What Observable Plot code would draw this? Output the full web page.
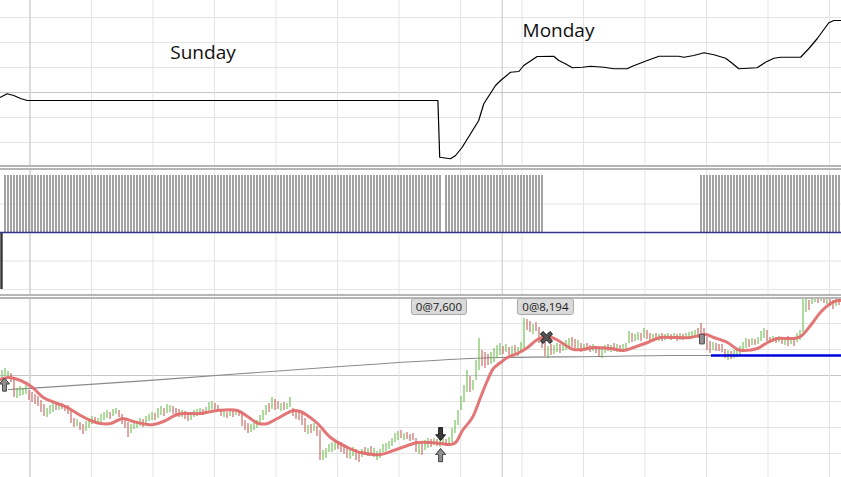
<!DOCTYPE html>
<html><head><meta charset="utf-8">
<script src="https://cdn.jsdelivr.net/npm/d3@7"></script>
<script src="https://cdn.jsdelivr.net/npm/@observablehq/plot@0.6"></script>
<style>
body{margin:0;background:#fff}
#root{position:relative;width:841px;height:477px;overflow:hidden;background:#fff}
.panel{position:absolute;left:0;width:841px;overflow:hidden}
.sep{position:absolute;left:0;width:841px;height:2px;background:#b6b6b6}
.lbl{position:absolute;font:11.5px "Open Sans","Noto Sans",sans-serif;color:#1a1a1a;background:#dadada;border:1px solid #a9a9a9;border-radius:3px;padding:0 4px;line-height:15px;transform:translateX(-50%);white-space:nowrap}
</style></head><body><div id="root"></div>
<script>
// ---------- shared x (bar index) ----------
const xDomain = [-0.5, 279.8333];
const vGrid = [9.33, 29.83, 50.33, 70.83, 91.33, 111.83, 132.33, 152.83, 173.33, 193.83, 214.33, 234.83, 255.33, 275.83];
const sessionBreaks = [9.33, 166.73];

// ---------- panel 1: indicator line ----------
const p1Idx = [-0.5,1.7,3.9,6.2,8.4,145.3,145.9,149.5,151.2,153.4,156.2,158.9,160.6,164.5,166.2,169.5,172.3,173.9,178.4,183.9,185.6,187.8,190.1,193.4,196.2,200.6,203.9,208.4,210.1,215.1,219,225.6,227.3,230.6,234,237.3,241.2,243.4,245.6,251.7,254.5,257.3,259.5,266.2,268.9,271.7,275.6,277.3,279.8];
const p1Val = [-1.9,-0.5,-1.2,-2.4,-3.2,-3.2,-25.9,-26.5,-25.2,-21.9,-16.5,-11.2,-4.5,2.8,4.8,8.1,8.4,10.8,14.4,14.5,12.8,11.5,9.9,10.1,10.5,10.1,9.5,9.5,10.5,12.8,14.5,14.5,14.1,14.8,15.9,15.1,13.7,11.7,9.5,9.9,12.1,13.7,14.1,14.1,17.5,21.5,27.9,28.8,28.8];
const p1Grid = [30, 20, 10, -10, -20];
const p1Zero = [0];
const dayNames = ["Sunday", "Monday"];
const dayIdx = [67, 185.5];
const dayVal = [16, 24.6];

// ---------- panel 2: volume-like bars ----------
const volSegments = [[1, 146], [148, 180], [233, 279]];
const volHeight = 2;
const firstBarIdx = -0.17;
const firstBarVal = -2;
const p2Grid = [1, -1, -2];

// ---------- panel 3: price bars ----------
const hi = [
7975,7985,7970,7960,7940,7885,7895,7885,7900,7875,
7865,7855,7845,7825,7805,7785,7800,7815,7810,7805,
7810,7800,7800,7775,7735,7730,7715,7705,7720,7735,
7745,7740,7735,7755,7765,7775,7765,7780,7785,7775,
7755,7735,7715,7705,7725,7720,7735,7730,7745,7755,
7765,7760,7785,7795,7785,7805,7800,7795,7785,7780,
7775,7770,7765,7760,7775,7780,7785,7780,7790,7815,
7820,7810,7800,7775,7770,7765,7775,7770,7775,7770,
7765,7725,7710,7705,7715,7725,7750,7775,7800,7810,
7840,7830,7820,7810,7815,7810,7840,7785,7775,7770,
7760,7735,7700,7705,7710,7695,7675,7575,7585,7605,
7615,7625,7620,7615,7605,7590,7585,7590,7580,7565,
7580,7590,7585,7595,7585,7570,7580,7605,7610,7620,
7635,7660,7670,7675,7660,7665,7655,7660,7635,7610,
7615,7625,7635,7630,7635,7630,7625,7635,7630,7640,
7685,7725,7775,7845,7900,7975,7945,7925,8025,8135,
8075,8065,8055,8065,8085,8100,8110,8095,8105,8090,
8095,8100,8090,8115,8235,8230,8220,8205,8215,8190,
8155,8115,8095,8105,8100,8110,8105,8115,8125,8135,
8140,8130,8125,8110,8105,8110,8100,8105,8095,8090,
8090,8100,8105,8100,8110,8105,8100,8105,8110,8170,
8160,8155,8165,8160,8185,8175,8160,8155,8160,8155,
8160,8155,8160,8155,8160,8155,8160,8155,8160,8165,
8170,8175,8185,8210,8185,8140,8120,8115,8110,8105,
8105,8080,8075,8070,8075,8080,8095,8115,8135,8130,
8135,8130,8140,8170,8185,8175,8140,8145,8140,8145,
8140,8135,8145,8135,8140,8160,8175,8335,8340,8325,
8345,8350,8340,8355,8345,8340,8335,8325,8330,8335];
const lo = [
7935,7945,7935,7915,7840,7835,7845,7850,7855,7825,
7815,7805,7795,7765,7745,7740,7755,7765,7775,7775,
7780,7770,7755,7710,7690,7695,7675,7655,7670,7685,
7705,7710,7705,7715,7725,7735,7730,7745,7755,7740,
7705,7685,7640,7660,7680,7685,7695,7690,7705,7720,
7725,7725,7735,7750,7745,7760,7765,7755,7750,7740,
7740,7730,7720,7725,7740,7745,7755,7750,7755,7775,
7780,7780,7770,7745,7740,7735,7745,7740,7750,7745,
7695,7675,7660,7665,7675,7685,7705,7725,7750,7765,
7780,7775,7780,7770,7775,7780,7790,7745,7730,7725,
7700,7665,7655,7660,7670,7645,7525,7525,7535,7565,
7565,7575,7580,7565,7555,7535,7530,7545,7525,7515,
7540,7550,7545,7555,7540,7525,7535,7565,7570,7580,
7595,7615,7625,7635,7625,7630,7620,7625,7565,7555,
7550,7575,7585,7590,7600,7595,7590,7600,7595,7605,
7615,7660,7700,7775,7815,7865,7865,7875,7925,7975,
7995,7985,8000,8005,8015,8035,8050,8055,8065,8050,
8050,8055,8045,8065,8085,8175,8165,8155,8170,8110,
8085,8045,8035,8050,8055,8065,8060,8070,8075,8085,
8090,8085,8080,8065,8070,8075,8065,8070,8060,8040,
8035,8060,8070,8065,8070,8065,8065,8070,8075,8110,
8115,8120,8125,8120,8135,8130,8120,8120,8125,8120,
8120,8125,8130,8125,8130,8120,8125,8125,8130,8130,
8135,8140,8135,8125,8110,8075,8060,8075,8070,8070,
8065,8035,8025,8030,8035,8040,8045,8065,8085,8090,
8100,8100,8105,8120,8135,8120,8110,8115,8110,8115,
8105,8100,8095,8105,8095,8115,8125,8165,8265,8275,
8305,8315,8310,8320,8310,8305,8295,8280,8295,8300];
const barDir = [
"uuudduuuud","ddddduuudu","dddddudduu","uduuuuduud","ddduuuuduu","uduuduuddd","udduuuuduu",
"udddududud","ddduuuuuud","udduduuddd","ddududduuu","uudddduudd","ududuuuuuu","uuududdddu",
"duududuudu","uuuuuuduuu","ddduuuudud","uduuuddudd","dduduuduuu","ddududdudd","uudududuuu",
"duududdudu","duudududuu","uudddddudd","dduduuuuud","uduuuddudu","dududuuuud","uudududdud"].join("");

const smaIdx = [-0.5,2.2,6.2,10.2,13.8,18.5,21.8,26.2,29.5,32.8,36.2,40.2,43.8,48.5,50.5,53.8,58.5,61.8,66.2,71.8,78.5,81.8,85.5,88.5,91.8,97.2,99.5,101.8,105.2,109.5,115.2,119.5,126.2,130.5,135.2,138.5,142.8,146.2,149.5,151.2,153.5,156.8,159.5,161.8,163.8,166.2,168.5,171.8,175.2,178.5,181.8,184.8,188.5,190.5,193.8,197.2,202.8,207.2,210.5,215.2,219.5,222.8,229.5,234.5,237.2,241.8,245.2,247.2,251.8,255.2,258.5,263.8,266.2,269.5,272.8,276.2,278.5,279.8];
const smaVal = [7930,7940,7925,7890,7840,7810,7790,7750,7725,7710,7710,7735,7720,7705,7705,7720,7755,7760,7760,7775,7775,7745,7710,7710,7735,7775,7770,7750,7710,7640,7590,7565,7555,7575,7600,7615,7615,7610,7605,7615,7675,7740,7840,7925,7985,8015,8040,8060,8090,8130,8145,8130,8095,8080,8080,8090,8085,8075,8090,8115,8140,8140,8140,8155,8140,8115,8080,8075,8085,8115,8135,8135,8145,8200,8265,8310,8325,8325];

const trendIdx = [2.17, 10.5, 56.2, 112.8, 166.2, 199.5, 222.8, 236.2];
const trendVal = [7880, 7887, 7933, 7995, 8040, 8045, 8050, 8050];

const stopVal = 8050;
const stopFrom = 236.5;

const p3Grid = [8210, 8080, 7820, 7690, 7560];
const p3Mid = [7950];

const markerIdx = [0.83, 146.2, 146.2, 181.5, 233.3];
const markerVal = [7905, 7657, 7552, 8140, 8132];
const markerKind = ["up", "down", "up", "x", "exit"];

const orderLabels = ["0@7,600", "0@8,194"];
const orderIdx = [145.8, 181.3];

// ---------- symbols ----------
const symUp = {draw(c, size){const r=Math.sqrt(size/Math.PI);
  c.moveTo(0,-r);c.lineTo(0.75*r,-0.1*r);c.lineTo(0.3*r,-0.1*r);c.lineTo(0.3*r,r);
  c.lineTo(-0.3*r,r);c.lineTo(-0.3*r,-0.1*r);c.lineTo(-0.75*r,-0.1*r);c.closePath();}};
const symDown = {draw(c, size){const r=Math.sqrt(size/Math.PI);
  c.moveTo(0,r);c.lineTo(0.75*r,0.1*r);c.lineTo(0.3*r,0.1*r);c.lineTo(0.3*r,-r);
  c.lineTo(-0.3*r,-r);c.lineTo(-0.3*r,0.1*r);c.lineTo(-0.75*r,0.1*r);c.closePath();}};
const symX = {draw(c, size){const a=Math.sqrt(size/Math.PI), t=0.42*a;
  const p=[[-a,-a+t],[-a+t,-a],[0,-t],[a-t,-a],[a,-a+t],[t,0],[a,a-t],[a-t,a],[0,t],[-a+t,a],[-a,a-t],[-t,0]];
  c.moveTo(p[0][0],p[0][1]);for(let k=1;k<p.length;k++)c.lineTo(p[k][0],p[k][1]);c.closePath();}};
const symExit = {draw(c, size){const r=Math.sqrt(size/Math.PI);c.rect(-0.4*r,-0.8*r,0.8*r,1.6*r);}};
const symbolOf = {up: symUp, down: symDown, x: symX, exit: symExit};
const fillOf = {up: "#8e8e8e", down: "#3a3a3a", x: "#555", exit: "#929292"};
const strokeOf = {up: "#505050", down: "#1a1a1a", x: "#111", exit: "#505050"};
const radiusOf = {up: 6.5, down: 6.5, x: 6, exit: 6};

// ---------- build ----------
const GRID = "#e4e4e4", GRID2 = "#c6c6c6";
function panel(h, yDomain, marks) {
  return Plot.plot({width: 841, height: h, margin: 0, style: {background: "transparent"},
    x: {domain: xDomain, axis: null}, y: {domain: yDomain, axis: null},
    color: {type: "identity"}, marks});
}
const root = document.getElementById("root");
function place(el, top, h) {
  const d = document.createElement("div"); d.className = "panel";
  d.style.top = top + "px"; d.style.height = h + "px"; d.appendChild(el); root.appendChild(d);
}

const p1Data = p1Idx.map((x, k) => ({x, y: p1Val[k]}));
const dayData = dayNames.map((t, k) => ({t, x: dayIdx[k], y: dayVal[k]}));
const plot1 = panel(165, [-29.2, 36.8], [
  Plot.ruleY(p1Grid, {stroke: GRID}),
  Plot.ruleY(p1Zero, {stroke: GRID2}),
  Plot.ruleX(vGrid, {stroke: GRID}),
  Plot.ruleX(sessionBreaks, {stroke: GRID2}),
  Plot.line(p1Data, {x: "x", y: "y", stroke: "#000", strokeWidth: 1.2}),
  Plot.text(dayData, {x: "x", y: "y", text: "t", fontSize: 19, fontFamily: "Open Sans, Noto Sans, sans-serif", fill: "#111"})
]);
place(plot1, 0, 165);

const volIdx = [];
for (const [a, b] of volSegments) for (let i = a; i <= b; i++) volIdx.push(i);
const plot2 = panel(126, [-2.175, 2.246], [
  Plot.ruleY(p2Grid, {stroke: GRID}),
  Plot.ruleX(vGrid, {stroke: GRID}),
  Plot.ruleX(sessionBreaks, {stroke: GRID2}),
  Plot.ruleX(volIdx, {x: d => d, y1: 0, y2: volHeight, stroke: "#a2a2a2", strokeWidth: 2}),
  Plot.ruleX([firstBarIdx], {x: d => d, y1: 0, y2: firstBarVal, stroke: "#333", strokeWidth: 2.4}),
  Plot.ruleY([0], {stroke: "#34348f", strokeWidth: 1.4})
]);
place(plot2, 168, 126);

const n = Math.min(hi.length, lo.length);
const bars = [];
for (let i = 0; i < n; i++) bars.push({i, hi: hi[i], lo: lo[i], c: barDir[i] === "u" ? "#5cb83c" : "#c0504a"});
const smaData = smaIdx.map((x, k) => ({x, y: smaVal[k]}));
const trendData = trendIdx.map((x, k) => ({x, y: trendVal[k]}));
const markers = markerKind.map((k, j) => ({x: markerIdx[j], y: markerVal[j], k}));
const plot3 = panel(180, [7440, 8340], [
  Plot.ruleY(p3Grid, {stroke: GRID}),
  Plot.ruleY(p3Mid, {stroke: GRID2}),
  Plot.ruleX(vGrid, {stroke: GRID}),
  Plot.ruleX(sessionBreaks, {stroke: GRID2}),
  Plot.line(trendData, {x: "x", y: "y", stroke: "#8a8a8a", strokeWidth: 1.1, curve: "monotone-x"}),
  Plot.ruleX(bars, {x: "i", y1: "lo", y2: "hi", stroke: "c", strokeWidth: 1, clip: true}),
  Plot.line(smaData, {x: "x", y: "y", stroke: "#e06868", strokeOpacity: 0.9, strokeWidth: 3, curve: "catmull-rom"}),
  Plot.ruleY([stopVal], {x1: stopFrom, x2: xDomain[1], stroke: "#0000dd", strokeWidth: 2.5}),
  ...markerKind.map(k => Plot.dot(markers.filter(m => m.k === k), {x: "x", y: "y", r: radiusOf[k], symbol: symbolOf[k], fill: fillOf[k], stroke: strokeOf[k], strokeWidth: 1}))
]);
place(plot3, 297, 180);

// separators
for (const t of [165, 168, 294, 297]) {
  const s = document.createElement("div"); s.className = "sep"; s.style.top = t + "px"; root.appendChild(s);
}
// order labels
const sx = plot3.scale("x");
orderLabels.forEach((t, k) => {
  const d = document.createElement("div"); d.className = "lbl"; d.textContent = t;
  d.style.left = sx.apply(orderIdx[k]) + "px"; d.style.top = "298px"; root.appendChild(d);
});
</script></body></html>
